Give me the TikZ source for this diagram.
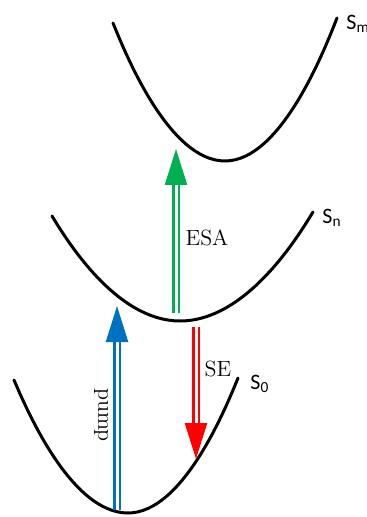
\documentclass[tikz,border=0pt]{standalone}
\usepackage{fontspec}
\newfontfamily\statefont{Carlito}
\usetikzlibrary{arrows.meta, positioning}
\definecolor{cBlue}{RGB}{0,112,192}
\definecolor{cGreen}{RGB}{0,176,80}
\definecolor{cRed}{RGB}{255,0,0}
\tikzset{
	pes/.style       ={line width=1.5pt, black, line cap=round},
	transition/.style={line width=1.2pt, double=white, double distance=1.5pt, -{Triangle[length=18pt, width=11pt]}},
	lbl/.style       ={font=\fontsize{11}{13}\selectfont, inner sep=1pt},
	statelbl/.style  ={font=\statefont\fontsize{11}{13}\selectfont, inner sep=1pt, anchor=west},
}
\begin{document}
\begin{tikzpicture}[x=0.5pt, y=-0.5pt]
	\useasboundingbox (0,0) rectangle (366,517);
	% potential energy curves
	\draw[pes] (113,23) parabola bend (225,161) (337,18);
	\draw[pes] (52,216) parabola bend (180,321) (313,212);
	\draw[pes] (14,380) parabola bend (128,513) (238,378);
	\node[statelbl] (Sm) at (344,24) {S\textsubscript{m}};
	\node[statelbl] (Sn) at (320,218) {S\textsubscript{n}};
	\node[statelbl] (S0) at (248,384) {S\textsubscript{0}};
	% transitions
	\coordinate (pumpA) at (117,510);
	\coordinate (pumpB) at (117,306);
	\coordinate (esaA) at (176,313);
	\coordinate (esaB) at (176,149);
	\coordinate (seA) at (196,327);
	\coordinate (seB) at (196,459);
	\draw[transition, cBlue] (pumpA) -- (pumpB);
	\draw[transition, cGreen] (esaA) -- (esaB);
	\draw[transition, cRed] (seA) -- (seB);
	\node[lbl] (esa) at (207,238) {ESA};
	\node[lbl] (se) at (218,369) {SE};
	\node[lbl, rotate=-90] (pump) at (101,415) {pump};
\end{tikzpicture}
\end{document}
